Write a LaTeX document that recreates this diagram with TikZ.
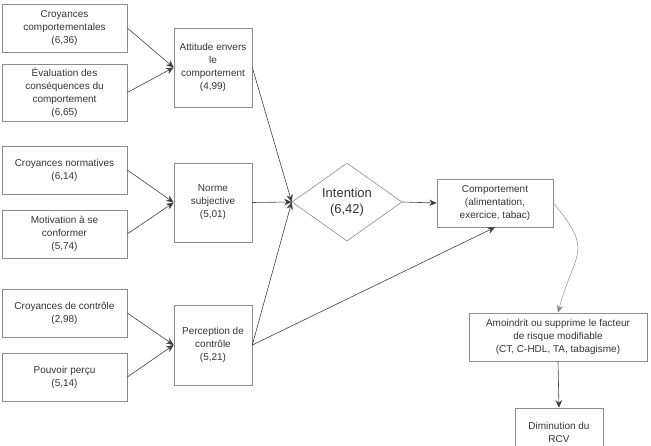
\documentclass[tikz,border=0pt]{standalone}
\usepackage{fontspec}
\setmainfont{Liberation Sans}
\usetikzlibrary{arrows.meta,shapes.geometric}
\definecolor{boxgray}{gray}{0.55}
\definecolor{linegray}{gray}{0.25}
\definecolor{textgray}{gray}{0.2}
\tikzset{
	facteur/.style={draw=boxgray, line width=0.6pt, text=textgray, align=center, inner sep=1pt, font=\fontsize{10}{13}\selectfont},
	fleche/.style={draw=linegray, line width=0.6pt, -{Stealth[length=7.5pt,width=6.5pt]}}
}

\begin{document}
\begin{tikzpicture}[x=1pt, y=-1pt]
		%%%%% START %%%%%
		
		\useasboundingbox (0, 0) rectangle (651, 446);
		
		\node[facteur, minimum width=125pt, minimum height=48pt] (croycomp) at (64.5, 28) {Croyances\\comportementales\\(6,36)};
		\node[facteur, minimum width=125pt, minimum height=57pt] (evalcons) at (64.5, 92.5) {Évaluation des\\conséquences du\\comportement\\(6,65)};
		\node[facteur, minimum width=125pt, minimum height=48pt] (croynorm) at (64.5, 170) {Croyances normatives\\(6,14)};
		\node[facteur, minimum width=125pt, minimum height=48pt] (motiv) at (64.5, 234) {Motivation à se\\conformer\\(5,74)};
		\node[facteur, minimum width=125pt, minimum height=48pt] (croycont) at (64.5, 313) {Croyances de contrôle\\(2,98)};
		\node[facteur, minimum width=125pt, minimum height=48pt] (pouvoir) at (64.5, 377) {Pouvoir perçu\\(5,14)};
		
		\node[facteur, minimum width=78pt, minimum height=79pt] (attitude) at (213, 67.5) {Attitude envers\\le\\comportement\\(4,99)};
		\node[facteur, minimum width=78pt, minimum height=79pt] (norme) at (213, 202.5) {Norme\\subjective\\(5,01)};
		\node[facteur, minimum width=78pt, minimum height=80pt] (perception) at (213, 345) {Perception de\\contrôle\\(5,21)};
		
		\node[facteur, shape=diamond, inner sep=0pt, minimum width=110pt, minimum height=78pt, font=\fontsize{13}{15.5}\selectfont] (intention) at (347, 202) {Intention\\(6,42)};
		
		\node[facteur, minimum width=116pt, minimum height=48pt] (comportement) at (495, 203) {Comportement\\(alimentation,\\exercice, tabac)};
		\node[facteur, minimum width=178pt, minimum height=48pt] (amoindrit) at (558, 337) {Amoindrit ou supprime le facteur\\de risque modifiable\\(CT, C-HDL, TA, tabagisme)};
		\node[facteur, minimum width=88pt, minimum height=48pt] (diminution) at (559, 432) {Diminution du\\RCV};
		
		\draw[fleche] (croycomp.east) -- (attitude.west);
		\draw[fleche] (evalcons.east) -- (attitude.west);
		\draw[fleche] (croynorm.east) -- (norme.west);
		\draw[fleche] (motiv.east) -- (norme.west);
		\draw[fleche] (croycont.east) -- (perception.west);
		\draw[fleche] (pouvoir.east) -- (perception.west);
		
		\draw[fleche] (attitude.east) -- (intention.west);
		\draw[fleche] (norme.east) -- (intention.west);
		\draw[fleche] (perception.east) -- (intention.west);
		
		\draw[fleche] (intention.east) -- (comportement.west);
		\draw[fleche] (perception.east) -- (comportement.south);
		
		\draw[fleche, draw=boxgray, line width=0.5pt] (comportement.east) to[out=-50, in=75, looseness=1.5] (amoindrit.north);
		\draw[fleche] (amoindrit.south) -- (diminution.north);
		
		%%%%% END %%%%%
	\end{tikzpicture}
\end{document}
